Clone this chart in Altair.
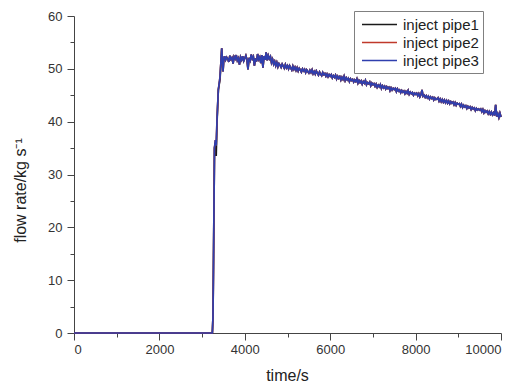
import altair as alt
import pandas as pd

# time samples (s)
ramp_times = [0, 3240, 3255, 3270, 3290, 3310, 3330, 3350, 3380, 3420, 3460, 3490, 3505]
ramp_p1 = [0.0, 0.0, 3.0, 16.0, 35.0, 36.0, 33.5, 40.0, 46.0, 48.0, 53.9, 49.5, 51.5]
ramp_p3 = [0.0, 0.0, 3.0, 16.0, 35.0, 36.5, 35.5, 40.5, 46.0, 48.5, 53.9, 49.5, 51.5]

grid_times = list(range(3525, 10001, 25))
grid_vals = [
    52.4, 51.7, 52.2, 51.9, 51.3, 52.5, 51.8, 52.1, 51.0, 52.3, 51.9, 52.6, 51.6, 52.0, 50.8, 52.2, 51.7, 52.4, 51.5, 52.0,
    52.5, 51.8, 49.9, 52.1, 51.6, 52.7, 51.9, 52.3, 50.6, 52.0, 51.4, 52.8, 51.8, 52.2, 51.1, 52.6, 50.2, 52.4, 51.7, 53.1,
    51.6, 52.5, 51.9, 52.3, 51.2, 51.8, 50.9, 51.4, 50.6, 51.2, 50.4, 51.0, 50.7, 50.3, 50.9, 50.5, 50.1, 50.8, 50.2, 50.6,
    50.0, 50.6, 50.2, 49.8, 50.5, 49.9, 50.3, 49.7, 50.2, 49.6, 50.1, 49.8, 49.4, 50.0, 49.6, 49.9, 49.3, 49.8, 49.5, 49.2,
    49.7, 49.3, 49.8, 49.1, 49.5, 49.0, 49.6, 49.2, 48.8, 49.4, 49.0, 48.7, 49.3, 48.9, 49.1, 48.6, 49.0, 48.5, 48.9, 48.6,
    48.9, 48.3, 48.7, 48.4, 48.8, 48.1, 48.6, 48.2, 48.5, 47.9, 48.4, 48.0, 48.6, 47.8, 48.3, 47.9, 48.2, 47.6, 48.1, 47.8,
    48.0, 47.5, 47.9, 47.6, 48.1, 47.3, 47.8, 47.4, 47.7, 47.1, 47.6, 47.3, 47.8, 47.0, 47.4, 47.2, 47.5, 46.8, 47.3, 47.0,
    47.2, 46.7, 47.1, 46.5, 46.9, 46.6, 47.0, 46.3, 46.8, 46.4, 46.7, 46.2, 46.6, 46.3, 46.5, 45.9, 46.4, 46.0, 46.3, 46.1,
    46.3, 45.7, 46.2, 45.8, 46.0, 45.5, 45.9, 45.6, 45.8, 45.3, 45.7, 45.4, 45.9, 45.2, 45.6, 45.3, 45.5, 45.0, 45.4, 45.2,
    45.4, 44.9, 45.3, 44.7, 45.1, 46.0, 44.8, 45.0, 44.6, 44.9, 44.5, 44.8, 44.3, 44.7, 44.4, 44.6, 44.1, 44.5, 44.2, 44.3,
    44.5, 43.9, 44.3, 43.8, 44.2, 43.7, 44.1, 43.6, 44.0, 43.5, 43.9, 43.4, 43.8, 43.5, 43.7, 43.2, 43.6, 43.1, 43.5, 43.3,
    43.4, 42.9, 43.3, 42.7, 43.1, 42.8, 43.0, 42.5, 42.9, 42.6, 42.8, 42.3, 42.7, 42.4, 42.6, 42.1, 42.5, 42.2, 42.4, 42.2,
    42.4, 41.9, 42.3, 41.7, 42.1, 41.8, 42.0, 41.5, 41.9, 41.4, 41.8, 41.3, 41.7, 41.2, 43.2, 41.0, 41.5, 40.8, 41.6, 40.9,
]

series_names = ["inject pipe1", "inject pipe2", "inject pipe3"]
series_colors = ["#1a1a1a", "#c0392b", "#2f3fae"]

rows = []
for name in series_names:
    ramp = ramp_p1 if name == "inject pipe1" else ramp_p3
    for t, v in zip(ramp_times + grid_times, ramp + grid_vals):
        rows.append({"time": t, "flow": v, "series": name})
df = pd.DataFrame(rows)

FONT = "Liberation Sans"

x_axis = alt.Axis(
    values=list(range(0, 10001, 1000)),
    format="d",
    labelExpr="datum.value % 2000 === 0 ? datum.label : ''",
    tickSize={"condition": {"test": "datum.value % 2000 === 0", "value": 7}, "value": 4},
    labelPadding=3,
    title="time/s",
    titleFontSize=16,
    titleFontWeight="normal",
    titleX=213,
    titleY=42,
    titleBaseline="middle",
    grid=False,
    domainColor="#444444",
    tickColor="#444444",
    labelColor="#333333",
    labelFontSize=13,
    labelFont=FONT,
    titleFont=FONT,
    titleColor="#222222",
)
y_axis = alt.Axis(
    values=list(range(0, 61, 5)),
    labelExpr="datum.value % 10 === 0 ? datum.label : ''",
    tickSize={"condition": {"test": "datum.value % 10 === 0", "value": 7}, "value": 4},
    labelPadding=5,
    title="flow rate/kg  s⁻¹",
    titleFontSize=16,
    titleFontWeight="normal",
    titleX=-54,
    titleY=174,
    titleBaseline="middle",
    grid=False,
    domainColor="#444444",
    tickColor="#444444",
    labelColor="#333333",
    labelFontSize=13,
    labelFont=FONT,
    titleFont=FONT,
    titleColor="#222222",
)

chart = alt.Chart(df).mark_line(strokeWidth=1.7).encode(
    x=alt.X("time:Q", scale=alt.Scale(domain=[0, 10000], nice=False), axis=x_axis),
    y=alt.Y("flow:Q", scale=alt.Scale(domain=[0, 60], nice=False), axis=y_axis),
    color=alt.Color(
        "series:N",
        scale=alt.Scale(domain=series_names, range=series_colors),
        legend=alt.Legend(
            title=None,
            orient="none",
            legendX=280,
            legendY=-5,
            symbolType="M-2,0H2",
            symbolSize=306,
            symbolStrokeWidth=1.5,
            symbolOffset=12,
            labelOffset=14,
            labelFontSize=15,
            labelFont=FONT,
            labelColor="#222222",
            strokeColor="#808080",
            fillColor="#ffffff",
            padding=4,
            rowPadding=0,
        ),
    ),
).properties(
    width=427,
    height=317,
    padding={"left": 74, "top": 16, "right": 20, "bottom": 54},
    autosize=alt.AutoSizeParams(type="none"),
).configure_view(stroke=None)

chart.save("out.html", embed_options={"renderer": "svg", "actions": False})
